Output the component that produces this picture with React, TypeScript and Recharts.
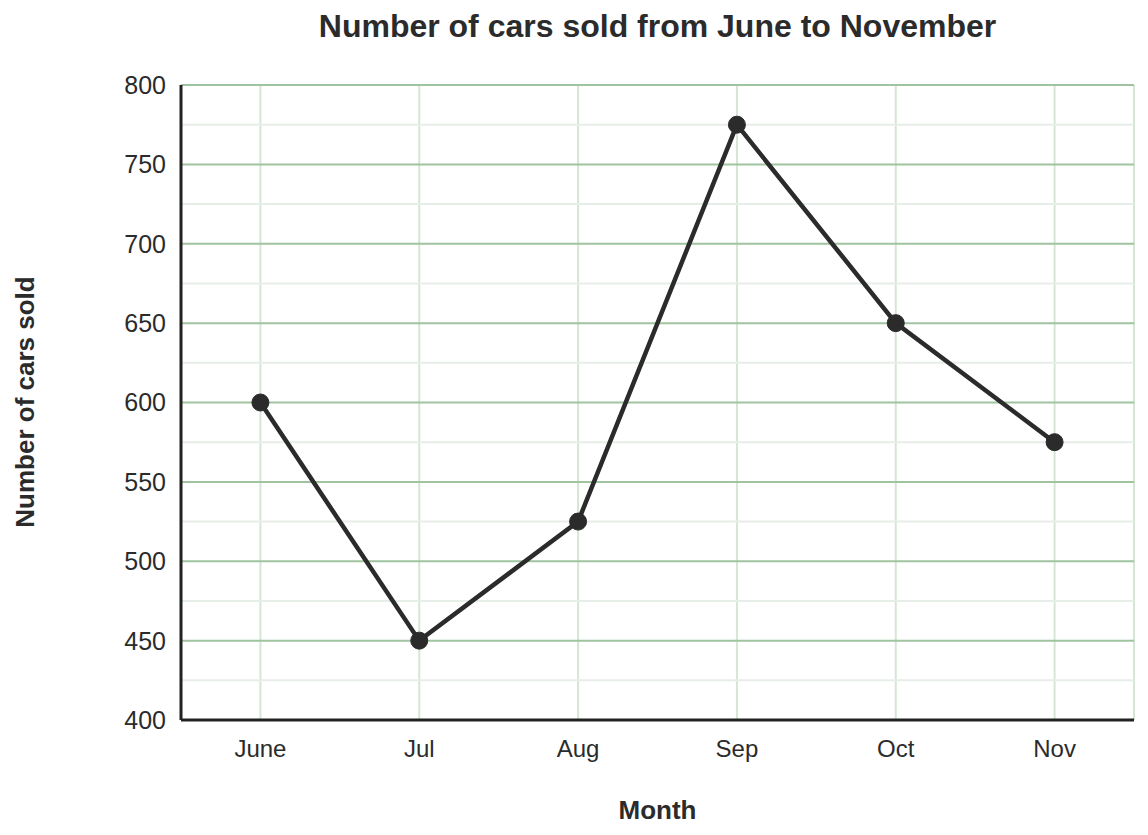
import React from "react";
import { LineChart, Line, XAxis, YAxis, CartesianGrid, ReferenceLine } from "recharts";

const months = ["June", "Jul", "Aug", "Sep", "Oct", "Nov"];
const carsSold = [600, 450, 525, 775, 650, 575];
const majorTicks = [400, 450, 500, 550, 600, 650, 700, 750, 800];
const minorTicks = [425, 475, 525, 575, 625, 675, 725, 775];

const data = months.map((m, i) => ({ month: m, cars: carsSold[i] }));

const font = "'Liberation Sans', Arial, sans-serif";
const textColor = "#2b2b2b";

export default function App() {
  return (
    <div style={{ position: "absolute", left: 0, top: 0, width: 1148, height: 835, background: "#fff", fontFamily: font }}>
      <LineChart
        width={1148}
        height={835}
        data={data}
        margin={{ top: 85, right: 14, bottom: 85, left: 0 }}
      >
        {minorTicks.map((t) => (
          <ReferenceLine key={t} y={t} stroke="#e7eee7" strokeWidth={2} />
        ))}
        <CartesianGrid horizontal={false} stroke="#d5e6d5" strokeWidth={2} />
        <CartesianGrid vertical={false} stroke="#a0c3a0" strokeWidth={2} />
        <XAxis
          dataKey="month"
          scale="band"
          axisLine={{ stroke: "#222", strokeWidth: 3 }}
          tickLine={false}
          tickSize={6}
          tickMargin={14}
          tick={{ fill: textColor, fontSize: 24, fontFamily: font }}
          height={30}
        />
        <YAxis
          domain={[400, 800]}
          ticks={majorTicks}
          type="number"
          width={181}
          axisLine={{ stroke: "#222", strokeWidth: 3 }}
          tickLine={false}
          tickSize={6}
          tickMargin={9}
          tick={{ fill: textColor, fontSize: 25, fontFamily: font }}
        />
        <Line
          dataKey="cars"
          stroke="#2b2b2b"
          strokeWidth={4.5}
          dot={{ r: 8.5, fill: "#2b2b2b", stroke: "#2b2b2b", strokeWidth: 1 }}
          isAnimationActive={false}
        />
      </LineChart>
      <div style={{ position: "absolute", left: 181, width: 953, top: 8, textAlign: "center", fontSize: 32, fontWeight: "bold", color: textColor }}>
        Number of cars sold from June to November
      </div>
      <div style={{ position: "absolute", left: 181, width: 953, top: 795, textAlign: "center", fontSize: 26, fontWeight: "bold", color: textColor }}>
        Month
      </div>
      <div
        style={{
          position: "absolute",
          left: 25,
          top: 402,
          transform: "translate(-50%, -50%) rotate(-90deg)",
          whiteSpace: "nowrap",
          fontSize: 26,
          fontWeight: "bold",
          color: textColor,
        }}
      >
        Number of cars sold
      </div>
    </div>
  );
}
